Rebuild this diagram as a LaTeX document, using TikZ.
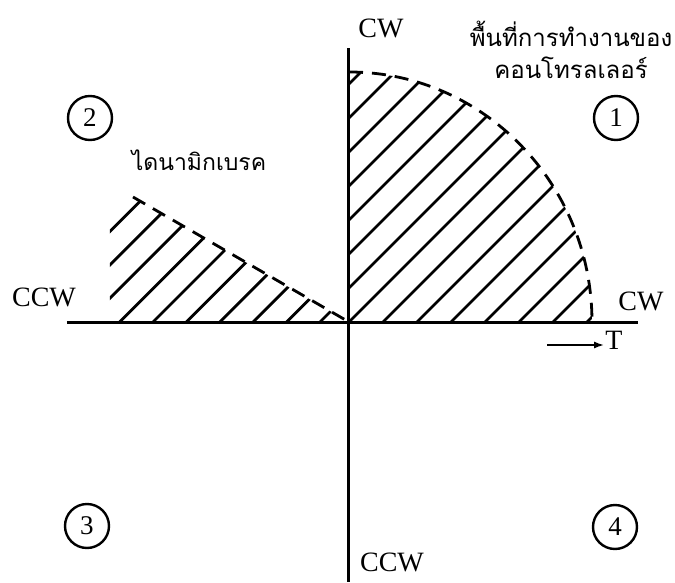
\documentclass[tikz,border=0pt]{standalone}
\usepackage{fontspec}
\setmainfont{Liberation Serif}
\newfontfamily\thaifont[Script=Thai]{Loma}
\usetikzlibrary{arrows.meta}
\begin{document}
\begin{tikzpicture}[
  x=1pt, y=1pt,
  font=\fontsize{28}{30}\selectfont,
  axis/.style={line width=3pt, draw=black},
  hatch/.style={line width=2.8pt, draw=black},
  bound/.style={line width=2.8pt, draw=black, dash pattern=on 14pt off 9pt},
  quad/.style={circle, draw=black, line width=2.4pt, minimum size=44pt, inner sep=0pt, font=\fontsize{27}{28}\selectfont},
  thai/.style={font=\thaifont\fontsize{24}{32}\selectfont, align=center},
  lbl/.style={inner sep=1pt}
]
\useasboundingbox (-349,-260) rectangle (326,322);
% axes
\draw[axis] (-282,0) -- (289,0);
\draw[axis] (0,274) -- (0,-260);
% quadrant 1: controller region
\begin{scope}
  \clip (0,0) -- (0,250) arc[start angle=90, end angle=0, x radius=243, y radius=250] -- cycle;
  \foreach \k in {-8,...,7}
    \draw[hatch] (34*\k-20,-20) -- (34*\k+300,300);
\end{scope}
\draw[bound] (0,250) arc[start angle=90, end angle=0, x radius=243, y radius=250];
% quadrant 2: dynamic brake
\begin{scope}
  \clip (-239,0) -- (-239,117) -- (-216,125) -- (0,0) -- cycle;
  \foreach \k in {0,...,9}
    \draw[hatch] (-29-33.4*\k-20,-20) -- (-29-33.4*\k+250,250);
\end{scope}
\draw[bound] (-216,125) -- (0,0);
% labels
\node[lbl] (cwtop) at (32,294) {CW};
\node[thai] (ctrl) at (222,272) {พื้นที่การทำงานของ\\คอนโทรลเลอร์};
\node[thai, font=\thaifont\fontsize{23}{32}\selectfont] (brake) at (-150,162) {ไดนามิกเบรค};
\node[lbl] (ccwleft) at (-305,25) {CCW};
\node[lbl] (cwright) at (292,21) {CW};
\node[lbl] (ccwbot) at (43,-240) {CCW};
\node[lbl] (torque) at (265,-18) {T};
\coordinate (tail) at (198,-23);
\draw[line width=2pt, -{Latex[length=10pt,width=7pt]}] (tail) -- (tail -| torque.west);
% quadrant numbers
\node[quad] (q1) at (267,204) {1};
\node[quad] (q2) at (-259,204) {2};
\node[quad] (q3) at (-262,-204) {3};
\node[quad] (q4) at (266,-205) {4};
\end{tikzpicture}
\end{document}
